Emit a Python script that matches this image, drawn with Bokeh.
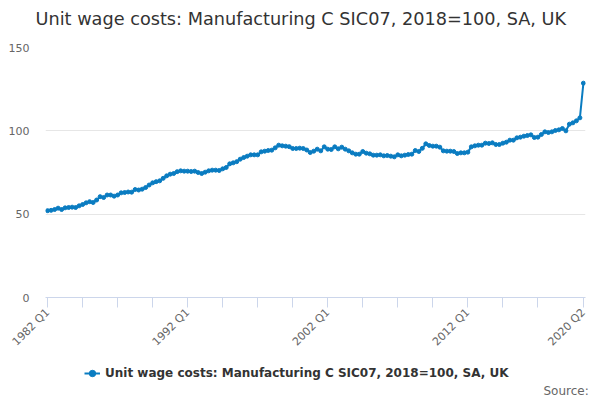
import math
from bokeh.plotting import figure
from bokeh.layouts import column
from bokeh.models import (ColumnDataSource, FixedTicker, Label, Legend, LegendItem,
                          Range1d)
from bokeh.embed import file_html
from bokeh.resources import INLINE

title_text = "Unit wage costs: Manufacturing C SIC07, 2018=100, SA, UK"
series_name = "Unit wage costs: Manufacturing C SIC07, 2018=100, SA, UK"
source_text = "Source:"

first_year = 1982
quarters_count = 154  # 1982 Q1 .. 2020 Q2

values = [
    52.1, 52.3, 52.8, 53.6, 52.8, 53.8, 54.0, 54.2, 54.0, 55.0,
    55.8, 56.8, 57.5, 57.0, 58.5, 60.5, 60.0, 61.5, 61.5, 60.8,
    61.5, 62.8, 63.0, 63.3, 63.2, 64.8, 64.5, 65.0, 66.0, 67.5,
    68.8, 69.5, 70.0, 71.5, 73.0, 74.0, 74.4, 75.5, 76.0, 75.8,
    75.8, 75.6, 75.8, 75.0, 74.4, 75.2, 76.0, 76.4, 76.4, 76.2,
    77.2, 78.0, 80.2, 80.8, 81.5, 83.0, 84.0, 84.8, 85.6, 85.6,
    85.6, 87.4, 87.8, 88.2, 88.4, 89.8, 91.4, 91.0, 90.8, 90.5,
    89.4, 89.4, 89.6, 89.4, 88.5, 87.0, 87.8, 89.0, 88.0, 90.4,
    89.0, 88.8, 90.4, 89.2, 90.2, 89.0, 88.0, 86.8, 86.0, 86.0,
    87.6, 86.6, 86.2, 85.4, 85.4, 85.6, 85.0, 85.2, 84.8, 84.4,
    85.6, 85.0, 85.4, 85.8, 86.0, 88.2, 87.6, 89.5, 92.2, 91.2,
    90.8, 90.8, 90.2, 88.0, 87.8, 87.8, 87.6, 86.4, 86.8, 86.8,
    87.2, 90.4, 91.0, 91.4, 91.4, 92.6, 92.4, 92.8, 91.8, 91.8,
    92.6, 93.2, 94.4, 94.4, 95.8, 96.2, 96.8, 97.2, 97.6, 96.0,
    96.2, 97.8, 99.4, 99.0, 99.4, 100.2, 100.6, 101.4, 100.0, 104.0,
    104.8, 106.0, 107.8, 128.6,
]

labels = [f"{first_year + i // 4} Q{i % 4 + 1}" for i in range(quarters_count)]
tick_idx = list(range(0, 150, 10)) + [quarters_count - 1]
shown_labels = [0, 40, 80, 120, quarters_count - 1]
y_ticks = [0, 50, 100, 150]

FONT = "DejaVu Sans"
LINE_COLOR = "#0a7cc1"
W = 600

src = ColumnDataSource(dict(x=list(range(len(values))), y=values, q=labels[:len(values)]))


def strip(height, xr, yr):
    f = figure(width=W, height=height, output_backend="svg", toolbar_location=None,
               x_range=xr, y_range=yr, x_axis_location=None, y_axis_location=None,
               min_border=0, frame_align=False)
    f.outline_line_color = None
    f.grid.visible = False
    f.border_fill_color = "white"
    f.background_fill_color = "white"
    return f


# ---- title strip ----
TH = 39
pt = strip(TH, Range1d(0, W), Range1d(0, TH))
pt.add_layout(Label(x=35, y=TH - 18, text=title_text, text_align="left",
                    text_baseline="middle", text_font=FONT, text_font_size="17.7px",
                    text_color="#333333"))

# ---- main chart ----
p = figure(width=W, height=317, output_backend="svg", toolbar_location=None,
           x_range=Range1d(-0.6, 153.6), y_range=Range1d(0, 150),
           min_border_left=45, min_border_right=15, min_border_top=8,
           min_border_bottom=59, frame_align=False)
p.outline_line_color = None
p.background_fill_color = "white"
p.border_fill_color = "white"

p.line("x", "y", source=src, line_color=LINE_COLOR, line_width=2)
p.scatter("x", "y", source=src, size=4, color=LINE_COLOR)

xa = p.xaxis[0]
xa.ticker = FixedTicker(ticks=tick_idx)
xa.major_label_overrides = {i: (labels[i] if i in shown_labels else "") for i in tick_idx}
xa.major_label_orientation = math.pi / 4
xa.axis_line_color = "#ccd6eb"
xa.major_tick_line_color = "#ccd6eb"
xa.major_tick_out = 10
xa.major_tick_in = 0
xa.minor_tick_line_color = None
xa.major_label_text_color = "#666666"
xa.major_label_text_font = FONT
xa.major_label_text_font_size = "11px"
xa.major_label_standoff = 3

ya = p.yaxis[0]
ya.ticker = FixedTicker(ticks=y_ticks)
ya.axis_line_color = None
ya.major_tick_line_color = None
ya.minor_tick_line_color = None
ya.major_label_text_color = "#666666"
ya.major_label_text_font = FONT
ya.major_label_text_font_size = "11px"
ya.major_label_standoff = 10

p.xgrid.grid_line_color = None
p.ygrid.ticker = FixedTicker(ticks=[50, 100, 150])
p.ygrid.grid_line_color = "#e6e6e6"

# ---- legend / source strip ----
LH = 43
pl = strip(LH, Range1d(1000, 1000 + W), Range1d(0, LH))
lg_line = pl.line("x", "y", source=src, line_color=LINE_COLOR, line_width=2)
lg_pts = pl.scatter("x", "y", source=src, size=4, color=LINE_COLOR)
legend = Legend(items=[LegendItem(label=series_name, renderers=[lg_line, lg_pts])],
                location=(84, LH - 25), orientation="horizontal",
                label_text_font=FONT, label_text_font_size="12px",
                label_text_font_style="bold", label_text_color="#333333",
                glyph_width=16, glyph_height=16, label_height=16, label_standoff=5,
                padding=0, margin=0, spacing=0,
                border_line_color=None, background_fill_alpha=0)
pl.add_layout(legend, "center")
pl.add_layout(Label(x=1000 + 543, y=LH - 34, text=source_text, text_align="left",
                    text_baseline="middle", text_font=FONT, text_font_size="12px",
                    text_color="#666666"))

layout = column(pt, p, pl, spacing=0)
open("out.html", "w").write(file_html(layout, INLINE))
